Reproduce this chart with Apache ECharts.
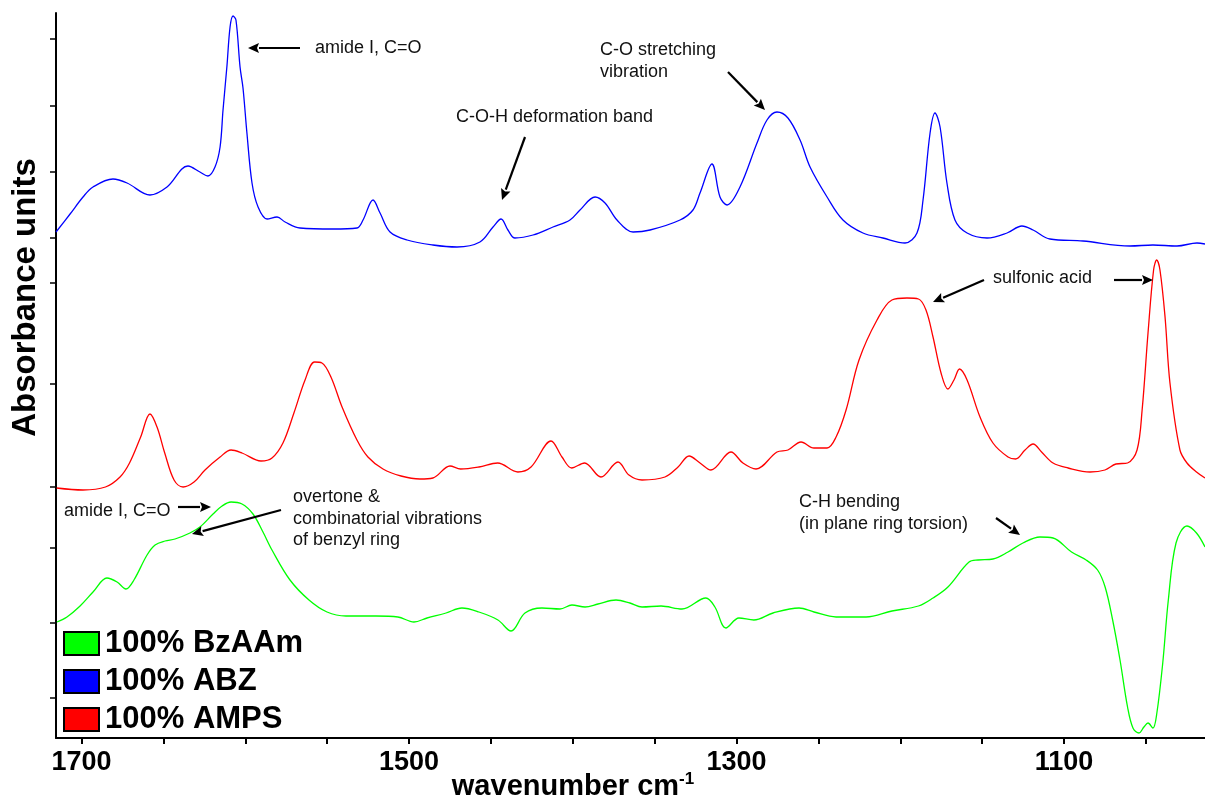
<!DOCTYPE html>
<html><head><meta charset="utf-8">
<script src="https://cdn.jsdelivr.net/npm/echarts@6/dist/echarts.min.js"></script>
<style>html,body{margin:0;padding:0;background:#fff}#c{width:1205px;height:802px}</style>
</head><body><div id="c"></div>
<script>
// ---- data ----
const seriesNames = ['100% BzAAm', '100% ABZ', '100% AMPS'];
const seriesColors = ['#00ff00', '#0000ff', '#ff0000'];
const wavenumberTicks = [1700,1650,1600,1550,1500,1450,1400,1350,1300,1250,1200,1150,1100,1050];
const wavenumberLabels = [1700,1500,1300,1100];
const absorbanceTicks = [0.40,1.15,1.90,2.51,3.54,4.55,5.00,5.66,6.32,6.99];

// [wavenumber cm-1, absorbance (offset)]
const bzaamSpectrum = [[1715.0,1.16],[1708.9,1.21],[1700.9,1.32],[1693.0,1.46],[1684.5,1.60],[1678.3,1.56],[1672.9,1.49],[1668.0,1.58],[1660.0,1.83],[1655.1,1.93],[1649.0,1.97],[1642.9,1.99],[1633.8,2.05],[1627.7,2.11],[1619.7,2.24],[1614.2,2.32],[1608.7,2.36],[1602.0,2.34],[1595.3,2.24],[1589.2,2.06],[1583.7,1.88],[1572.7,1.58],[1561.1,1.38],[1550.1,1.26],[1538.5,1.22],[1520.2,1.22],[1506.8,1.21],[1497.0,1.16],[1489.0,1.20],[1477.4,1.25],[1467.7,1.30],[1457.3,1.26],[1445.7,1.18],[1437.7,1.07],[1429.2,1.25],[1418.8,1.30],[1407.8,1.29],[1400.5,1.33],[1392.5,1.31],[1384.6,1.34],[1373.6,1.38],[1365.1,1.35],[1357.7,1.31],[1346.1,1.32],[1333.3,1.29],[1318.7,1.40],[1313.2,1.31],[1306.5,1.10],[1298.5,1.20],[1289.4,1.18],[1277.7,1.25],[1261.8,1.30],[1252.7,1.26],[1239.2,1.21],[1220.9,1.21],[1205.1,1.27],[1188.9,1.32],[1180.0,1.40],[1170.9,1.51],[1158.0,1.76],[1152.5,1.78],[1143.4,1.79],[1134.2,1.86],[1125.1,1.95],[1114.7,2.01],[1106.7,2.00],[1095.4,1.86],[1086.5,1.78],[1079.5,1.68],[1074.9,1.51],[1070.3,1.18],[1065.8,0.78],[1061.2,0.31],[1057.9,0.10],[1054.2,0.05],[1051.2,0.11],[1048.7,0.15],[1045.7,0.10],[1043.3,0.25],[1039.7,0.75],[1036.3,1.38],[1031.6,1.95],[1024.9,2.12],[1019.1,2.05],[1013.9,1.91]];

const abzSpectrum = [[1715.6,5.06],[1707.0,5.24],[1699.1,5.41],[1693.0,5.51],[1680.8,5.59],[1672.2,5.55],[1658.2,5.43],[1647.8,5.51],[1635.0,5.72],[1627.7,5.66],[1622.8,5.62],[1618.5,5.71],[1615.4,5.91],[1613.6,6.28],[1611.2,6.72],[1609.3,7.11],[1607.5,7.22],[1605.7,7.18],[1603.2,6.71],[1601.4,6.50],[1599.0,6.05],[1595.9,5.55],[1592.2,5.31],[1586.7,5.19],[1580.6,5.21],[1575.7,5.16],[1566.6,5.10],[1546.4,5.09],[1531.8,5.10],[1528.1,5.18],[1522.0,5.38],[1517.7,5.25],[1511.6,5.06],[1501.2,4.98],[1485.4,4.93],[1470.7,4.91],[1456.7,4.96],[1448.7,5.11],[1443.8,5.19],[1439.6,5.08],[1435.3,5.00],[1424.3,5.03],[1412.1,5.11],[1401.7,5.18],[1395.6,5.28],[1386.4,5.41],[1380.3,5.35],[1373.0,5.18],[1363.2,5.06],[1352.8,5.08],[1334.5,5.18],[1326.6,5.28],[1322.3,5.45],[1315.0,5.74],[1310.1,5.41],[1305.8,5.33],[1297.9,5.51],[1287.5,5.95],[1281.4,6.18],[1275.3,6.26],[1268.6,6.20],[1261.2,5.98],[1255.1,5.71],[1244.7,5.41],[1235.0,5.18],[1222.8,5.05],[1210.6,5.00],[1197.1,4.95],[1189.8,5.05],[1186.1,5.38],[1181.8,6.05],[1178.8,6.25],[1175.7,6.11],[1171.5,5.55],[1166.6,5.18],[1159.2,5.05],[1147.0,5.00],[1134.8,5.05],[1125.7,5.12],[1118.9,5.08],[1108.6,4.99],[1088.4,4.97],[1059.7,4.92],[1045.7,4.93],[1031.0,4.92],[1018.8,4.95],[1013.9,4.94]];

const ampsSpectrum = [[1715.2,2.50],[1699.1,2.48],[1685.4,2.51],[1676.5,2.61],[1670.7,2.75],[1663.9,3.01],[1658.2,3.24],[1653.9,3.11],[1649.2,2.85],[1643.5,2.58],[1638.0,2.51],[1631.3,2.56],[1624.6,2.68],[1615.4,2.81],[1608.7,2.88],[1602.0,2.85],[1590.4,2.77],[1583.7,2.80],[1577.0,2.95],[1570.3,3.25],[1563.5,3.58],[1557.7,3.76],[1553.2,3.75],[1547.7,3.61],[1540.9,3.31],[1531.8,2.98],[1525.1,2.81],[1515.9,2.69],[1504.9,2.62],[1493.3,2.59],[1485.4,2.60],[1475.0,2.72],[1468.5,2.69],[1457.3,2.71],[1445.9,2.75],[1433.5,2.66],[1425.5,2.71],[1413.3,2.97],[1406.6,2.81],[1400.7,2.70],[1392.8,2.75],[1382.8,2.61],[1372.4,2.76],[1365.7,2.63],[1357.7,2.58],[1343.7,2.61],[1335.7,2.71],[1329.0,2.82],[1322.3,2.75],[1315.6,2.68],[1303.4,2.86],[1296.1,2.75],[1288.1,2.69],[1275.3,2.86],[1268.6,2.88],[1260.6,2.96],[1252.7,2.90],[1244.7,2.90],[1239.2,3.01],[1233.1,3.28],[1225.2,3.78],[1214.2,4.18],[1205.1,4.38],[1195.9,4.40],[1188.9,4.39],[1184.3,4.28],[1180.0,4.01],[1175.1,3.65],[1170.9,3.49],[1167.2,3.58],[1163.8,3.69],[1159.2,3.58],[1151.3,3.21],[1143.4,2.95],[1134.2,2.81],[1129.6,2.79],[1123.8,2.88],[1118.9,2.94],[1113.7,2.86],[1106.7,2.75],[1097.5,2.70],[1084.1,2.66],[1075.0,2.68],[1068.3,2.74],[1061.2,2.75],[1055.4,2.88],[1052.3,3.28],[1048.7,4.05],[1045.3,4.68],[1043.4,4.78],[1041.4,4.68],[1038.3,4.21],[1035.3,3.55],[1029.2,2.88],[1024.9,2.75],[1019.1,2.66],[1013.9,2.60]];

const spectra = [bzaamSpectrum, abzSpectrum, ampsSpectrum];

// annotation texts (layout positions in px)
const annotationTexts = [
  {text: 'amide I, C=O', x: 315, y: 48},
  {text: 'C-O-H deformation band', x: 456, y: 117},
  {text: 'C-O stretching\nvibration', x: 600, y: 61},
  {text: 'sulfonic acid', x: 993, y: 278},
  {text: 'amide I, C=O', x: 64, y: 511},
  {text: 'overtone &\ncombinatorial vibrations\nof benzyl ring', x: 293, y: 519},
  {text: 'C-H bending\n(in plane ring torsion)', x: 799, y: 513}
];
const annotationArrows = [
  [300,48,248,48],[525,137,502,200],[728,72,765,110],[984,280,933,302],
  [1114,280,1153,280],[178,507,211,507],[281,510,192,534],[996,518,1020,535]
];

const FONT = '"Liberation Sans", Arial, Helvetica, sans-serif';

function arrowGraphics(a) {
  const [x1,y1,x2,y2] = a;
  const ang = Math.atan2(y2-y1, x2-x1);
  const L = 11, W = 5;
  const bx = x2 - L*Math.cos(ang), by = y2 - L*Math.sin(ang);
  const px = -Math.sin(ang)*W, py = Math.cos(ang)*W;
  return [
    {type:'line', shape:{x1:x1,y1:y1,x2:bx,y2:by}, style:{stroke:'#000', lineWidth:2.2}, z:100},
    {type:'polygon', shape:{points:[[x2,y2],[bx+px,by+py],[bx+2*Math.cos(ang),by+2*Math.sin(ang)],[bx-px,by-py]]}, style:{fill:'#000'}, z:100}
  ];
}

const graphics = [];
annotationTexts.forEach(t => graphics.push({
  type:'text', z:100, position:[t.x, t.y],
  style:{text:t.text, x:0, y:0, fill:'#111', font:'18px ' + FONT, lineHeight:21.5, textVerticalAlign:'middle'}
}));
annotationArrows.forEach(a => graphics.push(...arrowGraphics(a)));

const chart = echarts.init(document.getElementById('c'), null, {renderer:'canvas'});
chart.setOption({
  animation: false,
  backgroundColor: '#fff',
  grid: {left: 56, right: 0, top: 13, bottom: 64, containLabel: false, outerBoundsMode: 'none'},
  legend: {
    orient: 'vertical', left: 63, top: 628, padding: 0,
    icon: 'rect', itemWidth: 35, itemHeight: 23, itemGap: 7,
    data: seriesNames,
    itemStyle: {borderColor: '#000', borderWidth: 2},
    textStyle: {fontFamily: FONT, fontSize: 31, fontWeight: 'bold', color: '#000', lineHeight: 23, padding: [0,0,0,1]},
    selectedMode: false
  },
  xAxis: {
    type: 'value', inverse: true, min: 1013.9, max: 1715.6,
    axisLine: {show: true, lineStyle: {color: '#000', width: 2}},
    axisTick: {show: true, length: 6, lineStyle: {color: '#000', width: 2}, customValues: wavenumberTicks},
    axisLabel: {customValues: wavenumberLabels, margin: 11, formatter: v => String(v), fontFamily: FONT, fontSize: 27, fontWeight: 'bold', color: '#000'},
    splitLine: {show: false},
    name: '{a|wavenumber cm}{s|-1}',
    nameLocation: 'middle', nameGap: 33, nameMoveOverlap: false,
    nameTextStyle: {padding: [0,115,0,0], rich: {
      a: {fontFamily: FONT, fontSize: 29, fontWeight: 'bold', color: '#000', verticalAlign: 'bottom', lineHeight: 30},
      s: {fontFamily: FONT, fontSize: 17, fontWeight: 'bold', color: '#000', verticalAlign: 'top', lineHeight: 30, padding: [0,0,12,0]}
    }}
  },
  yAxis: {
    type: 'value', min: 0, max: 7.25,
    axisLine: {show: true, lineStyle: {color: '#000', width: 2}},
    axisTick: {show: true, length: 6, lineStyle: {color: '#000', width: 1.5}, customValues: absorbanceTicks},
    axisLabel: {show: false},
    splitLine: {show: false},
    name: 'Absorbance units', nameLocation: 'middle', nameGap: 14, nameRotate: 90, nameMoveOverlap: false,
    nameTextStyle: {fontFamily: FONT, fontSize: 33, fontWeight: 'bold', color: '#000', padding: [0,0,0,156]}
  },
  series: seriesNames.map((n, i) => ({
    name: n, type: 'line', data: spectra[i], showSymbol: false, smooth: 0.35,
    color: seriesColors[i],
    itemStyle: {color: seriesColors[i]},
    lineStyle: {color: seriesColors[i], width: 1.3},
    z: 3 + i
  })),
  graphic: graphics
});
</script></body></html>
